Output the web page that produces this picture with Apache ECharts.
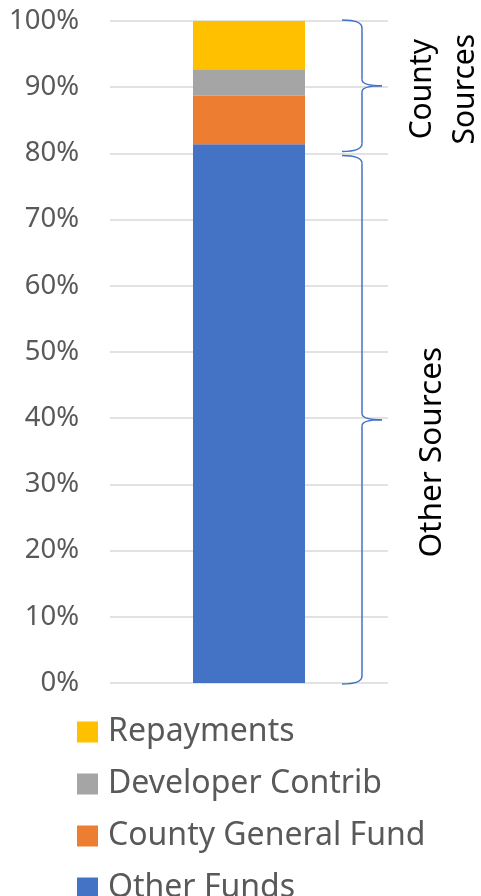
<!DOCTYPE html>
<html>
<head>
	<meta http-equiv="Content-Type" content="text/html; charset=UTF-8">
	<title>Funding Sources</title>
	<script src="https://cdn.jsdelivr.net/npm/echarts@6/dist/echarts.min.js"></script>
	<style>
		html, body { margin: 0; padding: 0; background: #fff; }
	</style>
</head>
<body>

	<div id="main" style="width: 481px;height:896px;"></div>

	<script>
		// stacked from the bottom up
		var categories = ['Funding'];
		var seriesNames = ['Other Funds', 'County General Fund', 'Developer Contrib', 'Repayments'];
		var seriesValues = [[81.4], [7.3], [4.0], [7.3]];
		var seriesColors = ['#4472C4', '#ED7D31', '#A5A5A5', '#FFC000'];
		var legendOrder = ['Repayments', 'Developer Contrib', 'County General Fund', 'Other Funds'];

		// brace groups: ranges on the value axis, and their labels
		var braceFrom = [80, 0];
		var braceTo = [100, 80];
		var braceLabels = ['County\nSources', 'Other Sources'];

		var fontName = "'Noto Sans', 'Open Sans', sans-serif";

		var chartDom = document.getElementById('main');
		var myChart = echarts.init(chartDom);

		var series = [];
		for (var i = 0; i < seriesNames.length; i++) {
			series.push({
				name: seriesNames[i],
				type: 'bar',
				stack: 'total',
				barWidth: 112,
				data: seriesValues[i],
				itemStyle: { color: seriesColors[i] }
			});
		}

		var option = {
			animation: false,
			grid: {
				left: 110,
				right: 93,
				top: 21,
				bottom: 213
			},
			legend: {
				orient: 'vertical',
				left: 77,
				top: 716,
				height: 260,
				padding: 0,
				data: legendOrder,
				icon: 'rect',
				itemWidth: 21,
				itemHeight: 21,
				itemGap: 20,
				textStyle: {
					fontFamily: fontName,
					fontSize: 32,
					lineHeight: 30,
					padding: [0, 0, 0, 5],
					color: '#595959'
				}
			},
			xAxis: {
				type: 'category',
				data: categories,
				axisLine: { show: false },
				axisTick: { show: false },
				axisLabel: { show: false }
			},
			yAxis: {
				type: 'value',
				min: 0,
				max: 100,
				interval: 10,
				axisLine: { show: false },
				axisTick: { show: false },
				axisLabel: {
					formatter: '{value}%',
					margin: 31,
					fontFamily: fontName,
					fontSize: 27.5,
					color: '#595959'
				},
				splitLine: {
					lineStyle: { color: '#D9D9D9', width: 1.5 }
				}
			},
			series: series
		};

		myChart.setOption(option);

		// braces and their labels, placed from the value axis
		var braceStyle = { fill: null, stroke: '#4472C4', lineWidth: 1.5 };

		function curve(x1, y1, cx, cy, x2, y2) {
			return {
				type: 'bezierCurve',
				shape: { x1: x1, y1: y1, cpx1: cx, cpy1: cy, x2: x2, y2: y2 },
				style: braceStyle
			};
		}

		function straight(x1, y1, x2, y2) {
			return {
				type: 'line',
				shape: { x1: x1, y1: y1, x2: x2, y2: y2 },
				style: braceStyle
			};
		}

		function braceParts(yTop, yBot) {
			var xl = 342, xs = 362, xp = 382;
			var ym = (yTop + yBot) / 2;
			return [
				curve(xl, yTop, xs, yTop, xs, yTop + 8),
				straight(xs, yTop + 8, xs, ym - 6),
				curve(xs, ym - 6, xs, ym, xp, ym),
				curve(xp, ym, xs, ym, xs, ym + 6),
				straight(xs, ym + 6, xs, yBot - 8),
				curve(xs, yBot - 8, xs, yBot, xl, yBot)
			];
		}

		var labelX = [444, 432];
		var labelDy = [2, 34];
		var labelSize = [30, 31.5];
		var graphics = [];
		for (var b = 0; b < braceLabels.length; b++) {
			var yTop = myChart.convertToPixel({ yAxisIndex: 0 }, braceTo[b]);
			var yBot = myChart.convertToPixel({ yAxisIndex: 0 }, braceFrom[b]);
			var insetTop = braceTo[b] === 100 ? -1 : 2;
			var insetBot = braceFrom[b] === 0 ? -1 : 2;
			graphics = graphics.concat(braceParts(yTop + insetTop, yBot - insetBot));
			graphics.push({
				type: 'text',
				x: labelX[b],
				y: (yTop + yBot) / 2 + labelDy[b],
				rotation: Math.PI / 2,
				style: {
					text: braceLabels[b],
					fontFamily: fontName,
					fontSize: labelSize[b],
					lineHeight: 43,
					fill: '#000',
					align: 'center',
					verticalAlign: 'middle'
				}
			});
		}

		myChart.setOption({ graphic: graphics });
	</script>

</body>
</html>
